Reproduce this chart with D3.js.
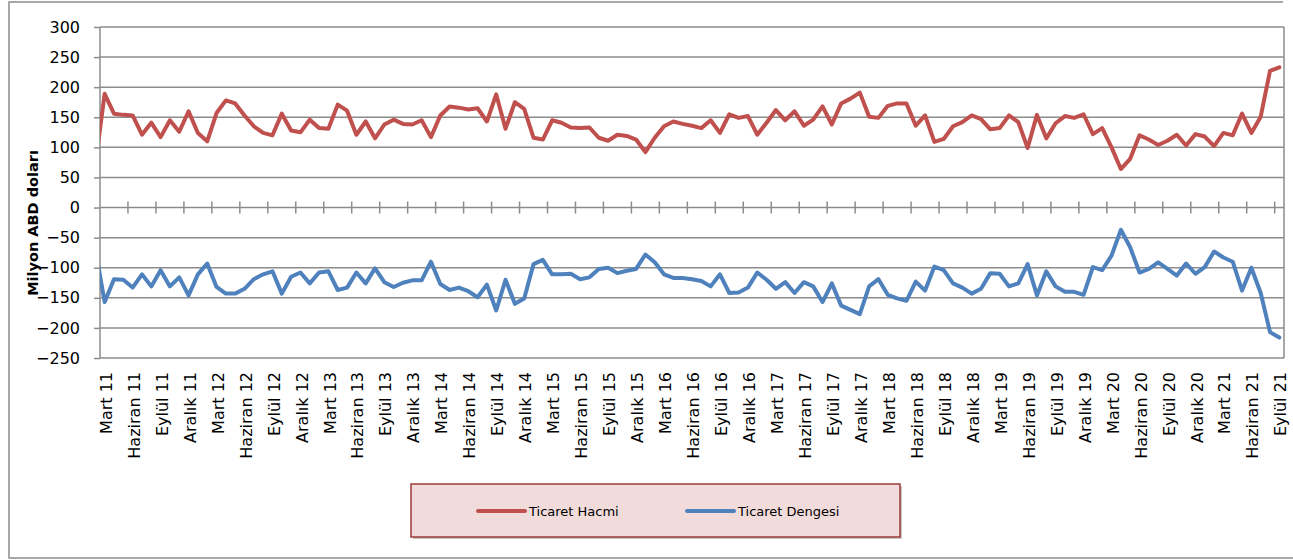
<!DOCTYPE html>
<html lang="tr">
<head>
    <meta charset="UTF-8">
    <title>Ticaret Hacmi ve Ticaret Dengesi</title>
    <script src="https://d3js.org/d3.v7.min.js"></script>
    <style>
        body { margin: 0; background: #fff; }
        text { font-family: "DejaVu Sans", sans-serif; fill: #000; }
        .tick text { font-size: 16px; }
        .ylabel { font-size: 14.5px; font-weight: bold; }
        .xlab { font-size: 16px; }
        .legend_text { font-size: 13px; }
    </style>
</head>
<body>
<svg width="1293" height="560"></svg>

<script>
    // x labels, every third month starting Mart 11
    const xTickLabels = [
        "Mart 11", "Haziran 11", "Eylül 11", "Aralık 11",
        "Mart 12", "Haziran 12", "Eylül 12", "Aralık 12",
        "Mart 13", "Haziran 13", "Eylül 13", "Aralık 13",
        "Mart 14", "Haziran 14", "Eylül 14", "Aralık 14",
        "Mart 15", "Haziran 15", "Eylül 15", "Aralık 15",
        "Mart 16", "Haziran 16", "Eylül 16", "Aralık 16",
        "Mart 17", "Haziran 17", "Eylül 17", "Aralık 17",
        "Mart 18", "Haziran 18", "Eylül 18", "Aralık 18",
        "Mart 19", "Haziran 19", "Eylül 19", "Aralık 19",
        "Mart 20", "Haziran 20", "Eylül 20", "Aralık 20",
        "Mart 21", "Haziran 21", "Eylül 21"
    ];
    const yTicks = [-250, -200, -150, -100, -50, 0, 50, 100, 150, 200, 250, 300];

    // monthly values, first entry is Şubat 11 (clipped at the left edge), then Mart 11 .. Eylül 21
    const hacim = [72,
        189,156,154,153,121,141,117,145,126,160,124,110,157,178,173,153,135,124,120,156,
        128,125,146,132,131,171,161,121,143,115,138,146,139,138,
        145,117,153,168,166,163,165,143,188,131,175,164,116,113,145,141,133,132,133,116,
        111,121,119,113,92,116,135,143,139,136,132,145,124,155,149,152,121,141,162,145,
        160,136,146,168,138,173,181,
        191,151,149,169,173,173,136,153,109,114,135,142,153,147,130,132,153,142,99,154,
        115,140,152,149,155,122,132,100,64,81,120,113,104,111,121,103,122,118,102,124,
        120,156,124,151,227,233];
    const denge = [-69,
        -157,-119,-120,-133,-111,-131,-104,-131,-116,-146,-111,-93,-132,-143,-143,-135,-119,-111,-106,-143,
        -115,-108,-126,-108,-106,-137,-133,-108,-126,-101,-124,-132,-125,-121,
        -121,-90,-127,-137,-133,-139,-149,-128,-171,-120,-160,-151,-94,-87,-111,-111,-110,-119,-116,-102,
        -100,-109,-105,-102,-78,-91,-111,-117,-117,-119,-122,-131,-111,-142,-141,-133,-108,-120,-135,-124,
        -142,-124,-131,-157,-126,-163,-170,
        -177,-131,-119,-145,-151,-155,-123,-138,-98,-104,-126,-133,-143,-135,-109,-110,-131,-126,-94,-146,
        -106,-131,-140,-140,-145,-99,-104,-80,-37,-66,-108,-102,-91,-102,-113,-93,-110,-99,-73,-83,
        -90,-138,-100,-142,-207,-216];

    const seriesNames = ["Ticaret Hacmi", "Ticaret Dengesi"];
    const colors = ["#c0504d", "#4f81bd"];

    let svg = d3.select("svg");
    const pLeft = 100, pRight = 1284, pTop = 27, pBottom = 358;
    const nCat = hacim.length - 1;

    let x = d3.scaleLinear().domain([-0.5, nCat - 0.5]).range([pLeft, pRight]);
    let y = d3.scaleLinear().domain([-250, 300]).range([pBottom, pTop]);

    // outer chart border
    svg.append("path")
        .attr("d", "M1283,2 H9 V558 H1293")
        .attr("fill", "none")
        .attr("stroke", "#8c8c8c")
        .attr("stroke-width", 1.5);

    // gridlines
    svg.append("g")
        .selectAll("line")
        .data(yTicks)
        .join("line")
        .attr("x1", pLeft).attr("x2", pRight)
        .attr("y1", d => y(d)).attr("y2", d => y(d))
        .attr("stroke", "#8c8c8c")
        .attr("stroke-width", 1.5);

    // right plot edge
    svg.append("line").attr("x1", pRight).attr("x2", pRight).attr("y1", pTop).attr("y2", pBottom)
        .attr("stroke", "#8c8c8c").attr("stroke-width", 1.5);

    // y axis
    let yAxis = svg.append("g")
        .attr("transform", `translate(${pLeft},0)`)
        .call(d3.axisLeft(y).tickValues(yTicks).tickSize(6).tickPadding(14));
    yAxis.selectAll("path, line").attr("stroke", "#8c8c8c").attr("stroke-width", 1.5);
    yAxis.select(".domain").attr("d", `M0,${pTop}V${pBottom}`);
    yAxis.selectAll("text").attr("font-family", "DejaVu Sans").attr("fill", "#000");

    svg.append("text")
        .attr("class", "ylabel")
        .attr("transform", "translate(38,223) rotate(-90)")
        .attr("text-anchor", "middle")
        .text("Milyon ABD doları");

    // category ticks crossing the zero line, every 3 months
    svg.append("g")
        .selectAll("line")
        .data(d3.range(1, xTickLabels.length))
        .join("line")
        .attr("x1", k => x(k * 3 - 0.5)).attr("x2", k => x(k * 3 - 0.5))
        .attr("y1", y(0) - 6).attr("y2", y(0) + 6)
        .attr("stroke", "#8c8c8c")
        .attr("stroke-width", 1.5);

    // rotated month labels
    svg.append("g")
        .selectAll("text")
        .data(xTickLabels)
        .join("text")
        .attr("class", "xlab")
        .attr("text-anchor", "end")
        .attr("dy", "0.38em")
        .attr("transform", (d, j) => `translate(${x(j * 3) + 1},${pBottom + 14}) rotate(-90)`)
        .text(d => d);

    // lines
    svg.append("clipPath").attr("id", "plot")
        .append("rect").attr("x", pLeft).attr("y", pTop)
        .attr("width", pRight - pLeft).attr("height", pBottom - pTop);

    let line = d3.line().x((d, i) => x(i - 1)).y(d => y(d));

    svg.append("g").attr("clip-path", "url(#plot)")
        .selectAll("path")
        .data([hacim, denge])
        .join("path")
        .attr("d", d => line(d))
        .attr("fill", "none")
        .attr("stroke", (d, i) => colors[i])
        .attr("stroke-width", 4)
        .attr("stroke-linejoin", "round")
        .attr("stroke-linecap", "round");

    // legend
    let lg = svg.append("g");
    lg.append("rect")
        .attr("x", 413).attr("y", 486).attr("width", 489).attr("height", 53)
        .attr("fill", "#c8c8c8");
    lg.append("rect")
        .attr("x", 411).attr("y", 484).attr("width", 489).attr("height", 53)
        .attr("fill", "#f2dcdb")
        .attr("stroke", "#9b3b38")
        .attr("stroke-width", 1.5);

    const legendX = [478, 687];
    seriesNames.forEach(function (name, i) {
        lg.append("line")
            .attr("x1", legendX[i]).attr("x2", legendX[i] + 47)
            .attr("y1", 511).attr("y2", 511)
            .attr("stroke", colors[i])
            .attr("stroke-width", 4)
            .attr("stroke-linecap", "round");
        lg.append("text")
            .attr("class", "legend_text")
            .attr("x", legendX[i] + 51).attr("y", 511)
            .attr("dy", "0.35em")
            .text(name);
    });
</script>
</body>
</html>
